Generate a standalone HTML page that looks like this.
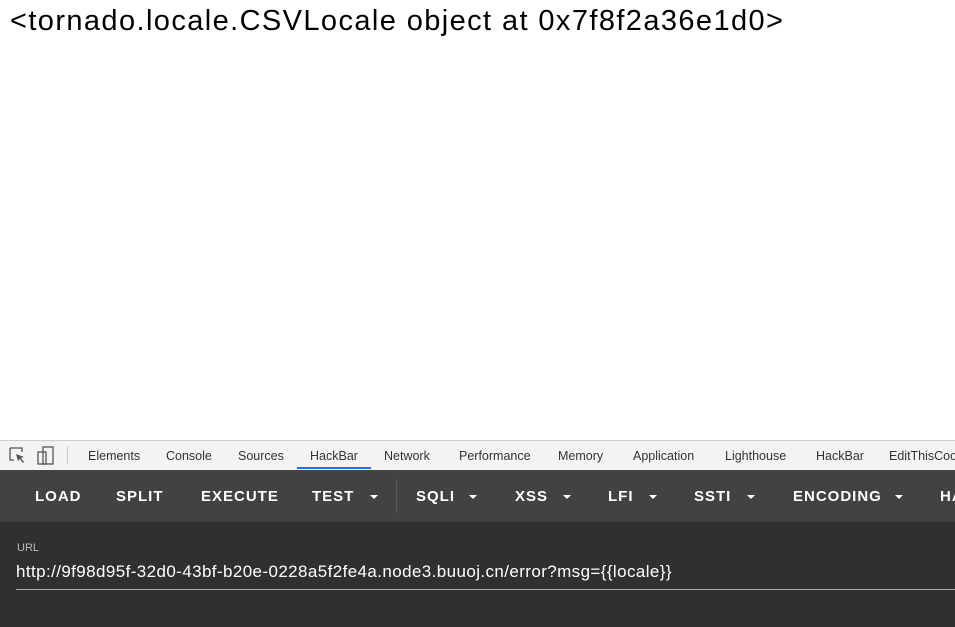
<!DOCTYPE html>
<html><head><style>
body{margin:0;width:955px;height:627px;overflow:hidden;background:#fff;font-family:"Liberation Sans",sans-serif;position:relative}
.h{position:absolute;left:10px;top:5px;font-size:29px;letter-spacing:1.4px;color:#000;white-space:nowrap}
.tabs{position:absolute;left:0;top:440px;width:955px;height:29px;background:#f1f3f4;border-top:1px solid #cbcdd1;border-bottom:1px solid #cbcdd1}
.tab{position:absolute;top:8px;font-size:12.5px;color:#333;white-space:nowrap}
.tb{position:absolute;left:0;top:470px;width:955px;height:52px;background:#424242}
.b{position:absolute;top:18px;font-size:15px;font-weight:bold;color:#fff;letter-spacing:1px;white-space:nowrap}
.ar{position:absolute;top:25px;width:0;height:0;border-left:4px solid transparent;border-right:4px solid transparent;border-top:4px solid #fff}
.bot{position:absolute;left:0;top:522px;width:955px;height:105px;background:#303030}
</style></head><body>
<div class="h">&lt;tornado.locale.CSVLocale object at 0x7f8f2a36e1d0&gt;</div>
<div class="tabs">
<svg style="position:absolute;left:9px;top:6px" width="18" height="18"><path d="M1 1h12v4M1 1v12h4" stroke="#555" fill="none" stroke-width="1.3"/><path d="M7 7l8 3-3 1 3 4-1 1-3-4-2 2z" fill="#555"/></svg>
<svg style="position:absolute;left:37px;top:5px" width="20" height="20"><rect x="1" y="6" width="8" height="12" stroke="#555" fill="none" stroke-width="1.3"/><rect x="6" y="1" width="10" height="17" stroke="#555" fill="none" stroke-width="1.3"/></svg>
<div style="position:absolute;left:67px;top:5px;width:1px;height:18px;background:#ccc"></div>
<div class="tab" style="left:88px">Elements</div>
<div class="tab" style="left:166px">Console</div>
<div class="tab" style="left:238px">Sources</div>
<div class="tab" style="left:310px">HackBar</div>
<div style="position:absolute;left:297px;top:26px;width:74px;height:2px;background:#1a73e8"></div>
<div class="tab" style="left:384px">Network</div>
<div class="tab" style="left:459px">Performance</div>
<div class="tab" style="left:558px">Memory</div>
<div class="tab" style="left:633px">Application</div>
<div class="tab" style="left:725px">Lighthouse</div>
<div class="tab" style="left:816px">HackBar</div>
<div class="tab" style="left:889px">EditThisCookie</div>
</div>
<div class="tb">
<div class="b" style="left:35px">LOAD</div>
<div class="b" style="left:116px">SPLIT</div>
<div class="b" style="left:201px">EXECUTE</div>
<div class="b" style="left:312px">TEST</div><div class="ar" style="left:370px"></div>
<div style="position:absolute;left:396px;top:9px;width:1px;height:34px;background:#5a5a5a"></div>
<div class="b" style="left:416px">SQLI</div><div class="ar" style="left:469px"></div>
<div class="b" style="left:515px">XSS</div><div class="ar" style="left:563px"></div>
<div class="b" style="left:608px">LFI</div><div class="ar" style="left:649px"></div>
<div class="b" style="left:694px">SSTI</div><div class="ar" style="left:747px"></div>
<div class="b" style="left:793px">ENCODING</div><div class="ar" style="left:895px"></div>
<div class="b" style="left:940px">HA</div>
</div>
<div class="bot">
<div style="position:absolute;left:17px;top:20px;font-size:11px;color:#bbb">URL</div>
<div style="position:absolute;left:16px;top:40px;font-size:17px;letter-spacing:0.4px;color:#fff;white-space:nowrap">http://9f98d95f-32d0-43bf-b20e-0228a5f2fe4a.node3.buuoj.cn/error?msg={{locale}}</div>
<div style="position:absolute;left:16px;top:67px;width:939px;height:1px;background:#aaa"></div>
</div>
</body></html>
